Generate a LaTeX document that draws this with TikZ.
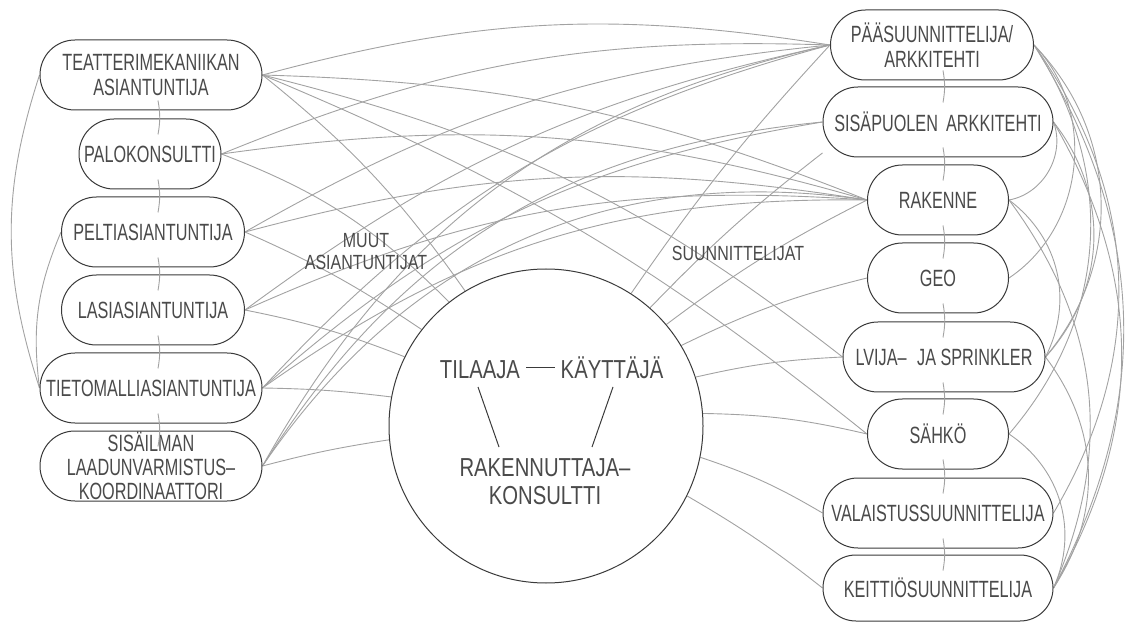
\documentclass[tikz,border=0pt]{standalone}
\usepackage{fontspec}
\setmainfont{Liberation Sans}[FakeStretch=0.69]
\newfontfamily\circfont{Liberation Sans}[FakeStretch=0.78]
\usetikzlibrary{calc,backgrounds}
\definecolor{ink}{HTML}{3A3A3A}
\definecolor{txt}{HTML}{4A4A4A}
\definecolor{wirec}{HTML}{A2A2A2}
\begin{document}
\begin{tikzpicture}[x=1pt,y=1pt,
  box/.style={draw=ink, line width=1pt, rectangle, rounded corners=34.9pt, fill=white,
    minimum height=70pt, inner sep=0pt, align=center, text=txt,
    font=\fontsize{23.5}{24.5}\selectfont},
  ctext/.style={inner sep=0pt, text=txt, font=\circfont\fontsize{26}{28}\selectfont},
  lbl/.style={inner sep=0pt, text=txt, align=center, font=\circfont\fontsize{20.5}{22}\selectfont},
  wire/.style={draw=wirec, line width=0.9pt},
  innerline/.style={draw=ink, line width=1pt}]
\useasboundingbox (0,0) rectangle (1125,622);

% left column
\node[box, minimum width=222pt] (T) at (151,547) {TEATTERIMEKANIIKAN\\ASIANTUNTIJA};
\node[box, minimum width=142pt] (Pa) at (150,468) {PALOKONSULTTI};
\node[box, minimum width=183pt] (Pe) at (153,390) {PELTIASIANTUNTIJA};
\node[box, minimum width=183pt] (La) at (153,312) {LASIASIANTUNTIJA};
\node[box, minimum width=222pt] (Ti) at (151,234) {TIETOMALLIASIANTUNTIJA};
\node[box, minimum width=222pt, font=\fontsize{23.5}{24}\selectfont] (Sil) at (151,156) {SISÄILMAN\\LAADUNVARMISTUS–\\KOORDINAATTORI};

% right column
\node[box, minimum width=203pt] (PA) at (932,577) {PÄÄSUUNNITTELIJA/\\ARKKITEHTI};
\node[box, minimum width=230pt] (SP) at (938,500) {SISÄPUOLEN\hspace{0.35em}ARKKITEHTI};
\node[box, minimum width=141pt] (RA) at (938,422) {RAKENNE};
\node[box, minimum width=141pt] (GE) at (938,344) {GEO};
\node[box, minimum width=202pt] (LV) at (944,265) {LVIJA–\hspace{0.45em}JA SPRINKLER};
\node[box, minimum width=141pt] (SA) at (938,188) {SÄHKÖ};
\node[box, minimum width=230pt] (VA) at (938,109) {VALAISTUSSUUNNITTELIJA};
\node[box, minimum width=230pt, minimum height=66pt, rounded corners=32.9pt] (KE) at (938,34) {KEITTIÖSUUNNITTELIJA};

% centre circle
\node[draw=ink, line width=1pt, circle, fill=white, minimum size=314pt, inner sep=0pt] (C) at (546,196) {};
\node[ctext, anchor=base] (til) at (480,243) {TILAAJA};
\node[ctext, anchor=base] (kay) at (612,243) {KÄYTTÄJÄ};
\node[ctext, anchor=base] (rak1) at (545,146) {RAKENNUTTAJA–};
\node[ctext, anchor=base] (rak2) at (545,118) {KONSULTTI};
\draw[innerline] ($(til.base east)+(6,11)$) -- ($(kay.base west)+(-6,11)$);
\draw[innerline] ($(til.base)+(-2,-8)$) -- ($(rak1.base)+(-46,29)$);
\draw[innerline] ($(kay.base)+(1,-8)$) -- ($(rak1.base)+(47,29)$);

% group labels
\node[lbl] (muut) at (366,370) {MUUT\\ASIANTUNTIJAT};
\node[lbl] (suun) at (738,369) {SUUNNITTELIJAT};

% short connectors inside the columns
\coordinate (lx) at (158,0);
\coordinate (rx) at (943,0);
\foreach \a/\b in {T/Pa,Pa/Pe,Pe/La,La/Ti,Ti/Sil}
  \draw[wire] ($(\a.south -| lx)+(0,10)$) to[bend left=10] ($(\b.north -| lx)+(0,-16)$);
\foreach \a/\b in {PA/SP,SP/RA,RA/GE,GE/LV,LV/SA,SA/VA,VA/KE}
  \draw[wire] ($(\a.south -| rx)+(0,10)$) to[bend left=10] ($(\b.north -| rx)+(0,-16)$);

\begin{scope}[on background layer]
  % left experts to designers
  \draw[wire] (T.east) to[bend left=12] (PA.west);
  \draw[wire] (T.east) to[bend left=10] (RA.west);
  \draw[wire] (T.east) to[bend left=12] (LV.west);
  \draw[wire] (T.east) to[bend left=8] (SA.west);
  \draw[wire] (Pa.east) to[bend left=12] (PA.west);
  \draw[wire] (Pa.east) to[bend left=12] (RA.west);
  \draw[wire] (Pe.east) to[bend left=12] (PA.west);
  \draw[wire] (Pe.east) to[bend left=12] (RA.west);
  \draw[wire] (La.east) to[bend left=12] (PA.west);
  \draw[wire] (La.east) to[bend left=14] (RA.west);
  \draw[wire] (Ti.east) to[bend left=16] (PA.west);
  \draw[wire] (Ti.east) to[bend left=16] (SP.west);
  \draw[wire] (Ti.east) to[bend left=18] (RA.west);
  \draw[wire] (Sil.east) to[bend left=24] (PA.west);
  \draw[wire] (Sil.east) to[bend left=26] (SP.west);
  \draw[wire] (Sil.east) to[bend left=32] (RA.west);
  % left experts to the circle
  \draw[wire] (T.east) to[bend left=8] (C);
  \draw[wire] (Pa.east) to[bend left=12] (C);
  \draw[wire] (Pe.east) to[bend left=5] (C);
  \draw[wire] (La.east) to[bend left=5] (C);
  \draw[wire] (Ti.east) to[bend left=3] (C);
  \draw[wire] (Sil.east) to[bend left=3] (C);
  % designers to the circle
  \draw[wire] (PA.west) to[bend right=4] (C);
  \draw[wire] (SP.195) to[bend right=4] (C);
  \draw[wire] (RA.west) to[bend right=5] (C);
  \draw[wire] (GE.west) to[bend right=6] (C);
  \draw[wire] (LV.west) to[bend right=5] (C);
  \draw[wire] (SA.west) to[bend right=6] (C);
  \draw[wire] (VA.west) to[bend right=6] (C);
  \draw[wire] (KE.west) to[bend right=4] (C);
  % left outer arcs
  \draw[wire] (T.west) to[bend right=18] (Ti.west);
  \draw[wire] (Pe.west) to[bend right=15] (Ti.west);
  % right outer arcs
  \draw[wire] (PA.east) to[bend left=50] (GE.east);
  \draw[wire] (PA.east) to[bend left=42] (LV.east);
  \draw[wire] (PA.east) to[bend left=37] (SA.east);
  \draw[wire] (PA.east) to[bend left=33] (VA.east);
  \draw[wire] (PA.east) to[bend left=30] (KE.east);
  \draw[wire] (SP.east) to[bend left=50] (RA.east);
  \draw[wire] (SP.east) to[bend left=40] (LV.east);
  \draw[wire] (SP.east) to[bend left=30] (KE.east);
  \draw[wire] (RA.east) to[bend left=40] (LV.east);
  \draw[wire] (RA.east) to[bend left=30] (KE.east);
  \draw[wire] (LV.east) to[bend left=35] (KE.east);
  \draw[wire] (SA.east) to[bend left=40] (KE.east);
\end{scope}
\end{tikzpicture}
\end{document}
